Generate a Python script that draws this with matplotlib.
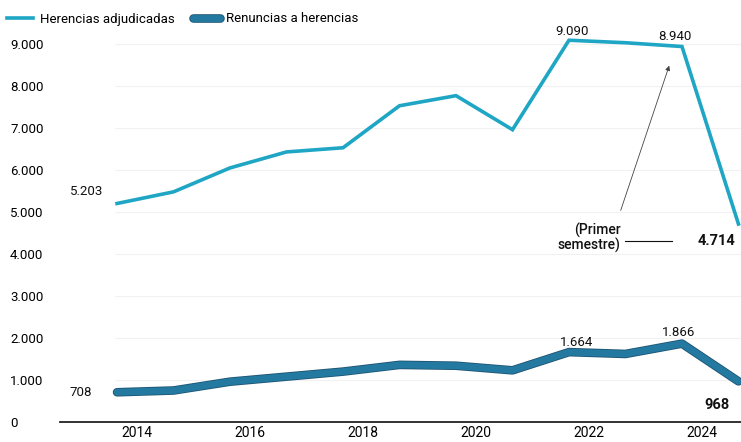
import numpy as np
import matplotlib
matplotlib.use("Agg")
import matplotlib.pyplot as plt
import matplotlib.patheffects as pe
from matplotlib import font_manager

names = {f.name for f in font_manager.fontManager.ttflist}
narrow = "Liberation Sans Narrow" if "Liberation Sans Narrow" in names else "Roboto"
plt.rcParams.update({
    "font.family": [narrow, "DejaVu Sans"],
    "font.size": 9.5,
})

years = np.arange(2013, 2025)
herencias = [5203, 5480, 6050, 6430, 6530, 7530, 7770, 6960, 9090, 9030, 8940, 4714]
renuncias = [708, 750, 960, 1080, 1200, 1360, 1340, 1230, 1664, 1620, 1866, 968]
tick_years = [2014, 2016, 2018, 2020, 2022, 2024]
yticks = np.arange(0, 10000, 1000)

c_her = "#1ea6c4"
c_ren = "#23799f"

def miles(v):
    return f"{v:,}".replace(",", ".")

# --- plot -----------------------------------------------------------------------------
fig = plt.figure(figsize=(7.41, 4.42), dpi=100)
ax = fig.add_axes([60/741, 20/442, 681/741, 400/442])
ax.set_xlim(2011.99, 2024.045)
ax.set_ylim(0, 9524)

ax.hlines(yticks[1:], 2012.97, 2024.045, color="#f1f1f1", linewidth=0.8, zorder=0)

ax.plot(years, herencias, color=c_her, linewidth=2.6, solid_joinstyle="miter",
        label="Herencias adjudicadas", clip_on=False, zorder=3)
ax.plot(years, renuncias, color=c_ren, linewidth=5, solid_capstyle="round",
        label="Renuncias a herencias", clip_on=False, zorder=3,
        path_effects=[pe.Stroke(linewidth=6.2, foreground="#1d5474"), pe.Normal()])

for s in ["top", "right", "left"]:
    ax.spines[s].set_visible(False)
ax.spines["bottom"].set_linewidth(1.3)
ax.spines["bottom"].set_color("#222222")

ax.set_yticks(yticks)
ax.set_yticklabels([miles(v) for v in yticks], fontsize=9.5)
for lbl in ax.get_yticklabels():
    lbl.set_ha("left")
ax.tick_params(axis="y", length=0, pad=36)
ax.set_xticks(np.array(tick_years) - 0.65)
ax.set_xticklabels([str(y) for y in tick_years], fontsize=10)
ax.tick_params(axis="x", length=0, pad=3)

def lab(i, series, text, dx, dy, bold=False):
    ax.annotate(text, (years[i], series[i]), xytext=(dx, dy), textcoords="offset pixels",
                ha="center", va="center", fontsize=9.5 if not bold else 10.5,
                fontweight="bold" if bold else "normal", color="#111111")

lab(0, herencias, miles(herencias[0]), -30, 12)
lab(0, renuncias, miles(renuncias[0]), -36, 0)
lab(8, herencias, miles(herencias[8]), 3, 9)
lab(10, herencias, miles(herencias[10]), -7, 10)
lab(8, renuncias, miles(renuncias[8]), 8, 10)
lab(10, renuncias, miles(renuncias[10]), -3, 11)
lab(11, renuncias, miles(renuncias[11]), -21, -24, bold=True)
lab(11, herencias, miles(herencias[11]), -22, -17, bold=True)

ax.annotate("(Primer\nsemestre)", (years[11], herencias[11]), xytext=(-118, -14),
            textcoords="offset pixels", ha="right", va="center", fontsize=10,
            fontweight="medium", linespacing=0.95, color="#111111")
ax.plot([2021.99, 2022.82], [4310, 4310], color="#111111", linewidth=0.8)
ax.annotate("", xy=(2022.79, 8548), xytext=(2021.90, 4976),
            arrowprops=dict(arrowstyle="-|>", color="#444444", linewidth=0.6,
                            mutation_scale=7))

ax.legend(loc="center left", bbox_to_anchor=(7/741, 1 - 19/442),
          bbox_transform=fig.transFigure, ncol=2, frameon=False, fontsize=9.5,
          handlelength=2.0, handletextpad=0.5, columnspacing=1.4,
          borderpad=0, borderaxespad=0)

fig.savefig("out.png", dpi=100)
